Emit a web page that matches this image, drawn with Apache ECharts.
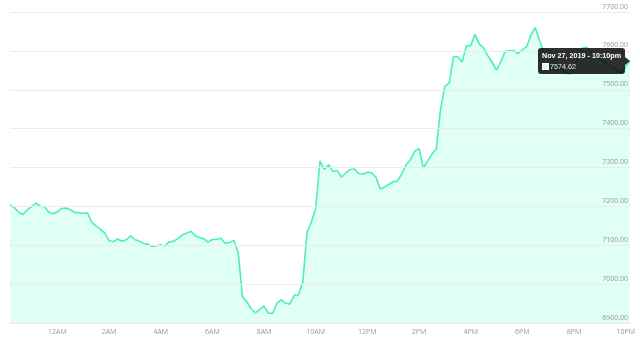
<!DOCTYPE html>
<html>
<head>
<meta charset="utf-8">
<script src="https://cdn.jsdelivr.net/npm/echarts@6/dist/echarts.min.js"></script>
<style>
html,body{margin:0;padding:0;background:#fff;}
#chart{width:640px;height:340px;}
</style>
</head>
<body>
<div id="chart"></div>
<script>
// Price values, one every 10 minutes from Nov 26 10:10pm to Nov 27 10:10pm
const prices = [
  7203.6, 7196.9, 7184.8, 7179.2, 7191.5, 7199.0, 7208.7, 7200.3, 7199.3, 7185.3,
  7180.9, 7186.4, 7194.6, 7195.9, 7191.2, 7184.6, 7183.5, 7182.3, 7183.0, 7158.6,
  7149.1, 7141.4, 7131.1, 7111.5, 7109.2, 7116.1, 7110.2, 7114.1, 7124.1, 7114.1,
  7110.7, 7104.6, 7102.8, 7096.9, 7098.9, 7101.2, 7098.1, 7109.2, 7110.0, 7116.9,
  7126.2, 7130.6, 7136.2, 7124.4, 7119.8, 7116.9, 7108.2, 7114.9, 7115.4, 7118.0,
  7104.6, 7107.2, 7112.6, 7081.2, 6968.3, 6954.6, 6936.6, 6926.1, 6935.3, 6943.3,
  6925.0, 6925.0, 6951.3, 6959.5, 6951.3, 6948.2, 6971.3, 6972.4, 7005.6, 7134.2,
  7159.6, 7194.6, 7316.8, 7294.9, 7307.0, 7289.3, 7292.1, 7275.6, 7285.9, 7294.9,
  7296.2, 7284.6, 7283.1, 7288.0, 7286.7, 7274.8, 7244.5, 7249.6, 7257.1, 7263.3,
  7265.3, 7283.8, 7307.3, 7320.1, 7341.2, 7349.2, 7298.8, 7317.0, 7334.5, 7347.6,
  7449.7, 7509.2, 7516.9, 7585.0, 7585.0, 7571.4, 7613.1, 7613.3, 7642.6, 7617.2,
  7607.9, 7587.3, 7570.1, 7550.8, 7572.2, 7598.1, 7600.2, 7601.0, 7592.7, 7603.0,
  7610.7, 7640.6, 7660.1, 7625.9, 7597.9, 7582.5, 7574.0, 7565.7, 7553.1, 7542.6,
  7540.3, 7557.5, 7585.0, 7607.4, 7608.9, 7595.0, 7584.5, 7578.1, 7572.4, 7564.7,
  7556.5, 7550.8, 7542.1, 7558.8, 7574.62
];

// Category times (minutes of day), 10-minute steps starting 22:10
const startMinute = 22 * 60 + 10;
const stepMinutes = 10;
const categories = prices.map((_, i) => {
  const m = (startMinute + i * stepMinutes) % 1440;
  const hh = String(Math.floor(m / 60)).padStart(2, '0');
  const mm = String(m % 60).padStart(2, '0');
  return hh + ':' + mm;
});

// X tick labels for even hours
const tickHours = [0, 2, 4, 6, 8, 10, 12, 14, 16, 18, 20, 22];
const tickLabels = ['12AM', '2AM', '4AM', '6AM', '8AM', '10AM', '12PM', '2PM', '4PM', '6PM', '8PM', '10PM'];

// Y axis range
const yMin = 6900, yMax = 7700, yStep = 100;

function hourOf(c) { return parseInt(c.slice(0, 2), 10); }
function minOf(c) { return parseInt(c.slice(3, 5), 10); }

function tipTitle(idx) {
  const c = categories[idx];
  const H = hourOf(c), M = minOf(c);
  const day = (startMinute + idx * stepMinutes) >= 1440 ? 27 : 26;
  const h12 = (H % 12) || 12;
  const ap = H < 12 ? 'am' : 'pm';
  return 'Nov ' + day + ', 2019 - ' + h12 + ':' + String(M).padStart(2, '0') + ap;
}

const chart = echarts.init(document.getElementById('chart'));
const FONT = '"Open Sans", "Liberation Sans", sans-serif';
const TIPFONT = "'Liberation Sans', Arial, sans-serif";

chart.setOption({
  animation: false,
  backgroundColor: '#fff',
  grid: { left: 10, right: 10, top: 12, bottom: 17 },
  tooltip: {
    trigger: 'axis',
    alwaysShowContent: true,
    axisPointer: { type: 'none' },
    backgroundColor: 'rgba(0,0,0,0.82)',
    borderWidth: 0,
    borderRadius: 3,
    padding: [2, 4, 2, 4],
    extraCssText: 'box-shadow:none;overflow:visible;',
    textStyle: { color: '#fff', fontSize: 7, fontFamily: TIPFONT },
    position: function (point, params, dom, rect, size) {
      return [point[0] - size.contentSize[0] - 5, point[1] - size.contentSize[1] / 2];
    },
    formatter: function (params) {
      const p = params[0];
      return '<div style="position:relative;font-family:' + TIPFONT + ';">' +
        '<div style="font-weight:bold;font-size:7.2px;line-height:11px;color:#fff;white-space:nowrap;">' + tipTitle(p.dataIndex) + '</div>' +
        '<div style="font-size:7.2px;line-height:11px;color:#e6e6e6;white-space:nowrap;">' +
        '<span style="display:inline-block;width:5px;height:5px;background:#d6fbea;border:1px solid #fff;vertical-align:-1px;margin-right:1px;"></span>' +
        p.value.toFixed(2) + '</div>' +
        '<div style="position:absolute;right:-9px;top:50%;margin-top:-4px;width:0;height:0;border-left:5px solid rgba(0,0,0,0.82);border-top:4px solid transparent;border-bottom:4px solid transparent;"></div>' +
        '</div>';
    }
  },
  xAxis: {
    type: 'category',
    data: categories,
    boundaryGap: false,
    axisLine: { show: false },
    axisTick: { show: false },
    splitLine: { show: false },
    axisLabel: {
      color: '#999',
      fontSize: 7,
      fontFamily: FONT,
      margin: 5,
      interval: function (index, value) {
        return minOf(value) === 0 && tickHours.indexOf(hourOf(value)) >= 0;
      },
      formatter: function (value) {
        const k = tickHours.indexOf(hourOf(value));
        return k >= 0 ? tickLabels[k] : '';
      }
    }
  },
  yAxis: {
    type: 'value',
    position: 'right',
    min: yMin,
    max: yMax,
    interval: yStep,
    z: 10,
    axisLine: { show: false },
    axisTick: { show: false },
    splitLine: { lineStyle: { color: '#ebebeb', width: 1 } },
    axisLabel: {
      inside: true,
      margin: 2,
      color: '#999',
      fontSize: 7,
      fontFamily: FONT,
      verticalAlign: 'bottom',
      padding: [0, 0, 2, 0],
      formatter: function (v) { return v.toFixed(2); }
    }
  },
  series: [{
    type: 'line',
    data: prices,
    showSymbol: false,
    symbol: 'none',
    lineStyle: { color: '#45dc9e', width: 1.6 },
    itemStyle: { color: '#45dc9e' },
    areaStyle: { color: '#cbf5e1', opacity: 1 },
    z: 2
  }]
});

chart.dispatchAction({ type: 'showTip', seriesIndex: 0, dataIndex: prices.length - 1 });
</script>
</body>
</html>
